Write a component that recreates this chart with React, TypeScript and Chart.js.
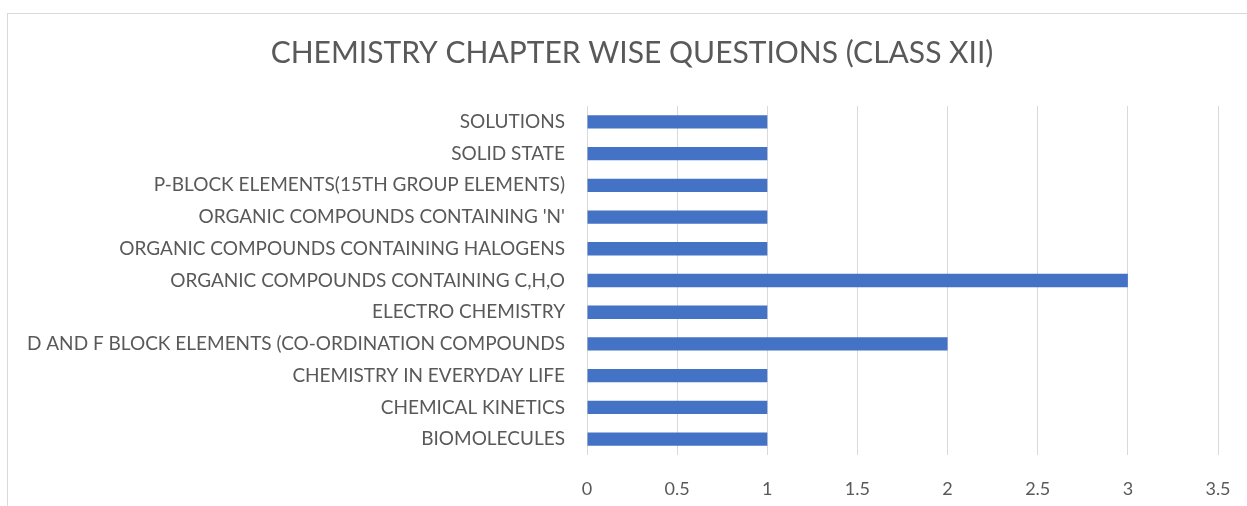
import React, { useEffect, useRef } from "react";
import { Chart, registerables } from "chart.js";

Chart.register(...registerables);

const TITLE = "CHEMISTRY CHAPTER WISE QUESTIONS (CLASS XII)";
const categories = [
  "SOLUTIONS",
  "SOLID STATE",
  "P-BLOCK ELEMENTS(15TH GROUP ELEMENTS)",
  "ORGANIC COMPOUNDS CONTAINING 'N'",
  "ORGANIC COMPOUNDS CONTAINING HALOGENS",
  "ORGANIC COMPOUNDS CONTAINING C,H,O",
  "ELECTRO CHEMISTRY",
  "D AND F BLOCK ELEMENTS (CO-ORDINATION COMPOUNDS",
  "CHEMISTRY IN EVERYDAY LIFE",
  "CHEMICAL KINETICS",
  "BIOMOLECULES",
];
const questions = [1, 1, 1, 1, 1, 3, 1, 2, 1, 1, 1];

const FONT = "Lato, 'Noto Sans', sans-serif";
const TEXT = "#595959";
const GRID = "#D9D9D9";

export default function App() {
  const ref = useRef<HTMLCanvasElement>(null);
  useEffect(() => {
    const titlePlugin = {
      id: "customTitle",
      afterDraw(chart: any) {
        const ctx = chart.ctx;
        ctx.save();
        ctx.font = `30px ${FONT}`;
        ctx.fillStyle = TEXT;
        ctx.textAlign = "center";
        ctx.textBaseline = "middle";
        ctx.fillText(TITLE, 632, 53);
        ctx.restore();
      },
    };
    const chart = new Chart(ref.current!, {
      type: "bar",
      data: {
        labels: categories,
        datasets: [
          {
            data: questions,
            backgroundColor: "#4472C4",
            barPercentage: 0.42,
            categoryPercentage: 1,
          },
        ],
      },
      options: {
        indexAxis: "y",
        responsive: false,
        animation: false,
        layout: { padding: { top: 106, right: 29, bottom: 8, left: 0 } },
        plugins: { legend: { display: false }, tooltip: { enabled: false }, title: { display: false } },
        scales: {
          x: {
            min: 0,
            max: 3.5,
            ticks: {
              stepSize: 0.5,
              color: TEXT,
              font: { family: FONT, size: 18 },
              padding: 23,
              callback: (v: any) => String(Number(v)),
            },
            grid: { color: GRID, drawTicks: false, lineWidth: 1 },
            border: { display: false },
            afterFit(axis: any) {
              axis.height = 43;
              axis.paddingRight = 0;
              axis.paddingLeft = 0;
            },
          },
          y: {
            ticks: { color: TEXT, font: { family: FONT, size: 19 }, padding: 22, autoSkip: false },
            grid: { display: false, drawTicks: false },
            border: { display: false },
            afterFit(axis: any) {
              axis.width = 587;
              axis.paddingTop = 0;
              axis.paddingBottom = 0;
            },
          },
        },
      },
      plugins: [titlePlugin],
    });
    return () => chart.destroy();
  }, []);
  return (
    <div style={{ position: "fixed", left: 0, top: 0, width: 1247, height: 506, background: "#fff", overflow: "hidden" }}>
      <canvas ref={ref} width={1247} height={506} style={{ position: "absolute", left: 0, top: 0 }} />
      <div
        style={{
          position: "absolute",
          left: 7,
          top: 13,
          width: 1300,
          height: 600,
          borderLeft: "1px solid #D9D9D9",
          borderTop: "1px solid #D9D9D9",
          pointerEvents: "none",
        }}
      />
    </div>
  );
}
